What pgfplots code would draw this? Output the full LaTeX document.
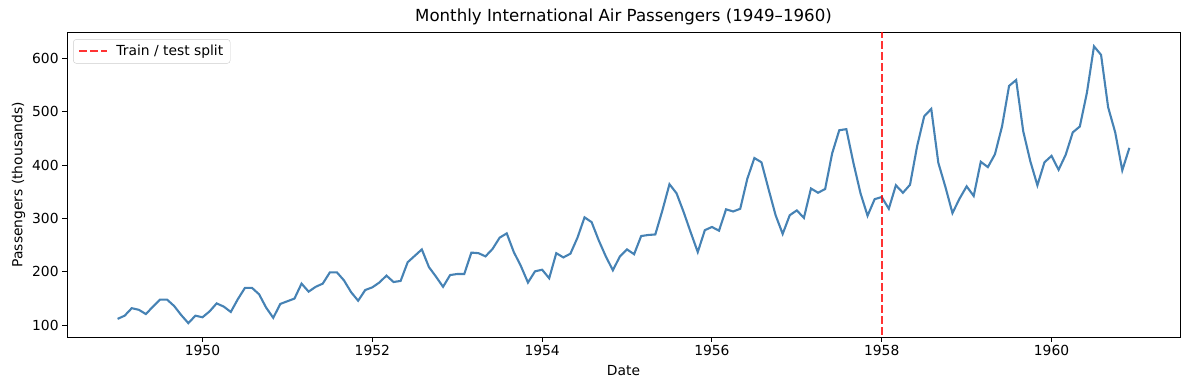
\documentclass[border=0pt]{standalone}
\usepackage{pgfplots}
\usepackage{pgfplotstable}
\pgfplotsset{compat=1.18}
\usepackage{fontspec}
\setmainfont{DejaVu Sans}
\definecolor{steel}{HTML}{4682B4}
\pgfplotstableread{
m v
0 112
1 118
2 132
3 129
4 121
5 135
6 148
7 148
8 136
9 119
10 104
11 118
12 115
13 126
14 141
15 135
16 125
17 149
18 170
19 170
20 158
21 133
22 114
23 140
24 145
25 150
26 178
27 163
28 172
29 178
30 199
31 199
32 184
33 162
34 146
35 166
36 171
37 180
38 193
39 181
40 183
41 218
42 230
43 242
44 209
45 191
46 172
47 194
48 196
49 196
50 236
51 235
52 229
53 243
54 264
55 272
56 237
57 211
58 180
59 201
60 204
61 188
62 235
63 227
64 234
65 264
66 302
67 293
68 259
69 229
70 203
71 229
72 242
73 233
74 267
75 269
76 270
77 315
78 364
79 347
80 312
81 274
82 237
83 278
84 284
85 277
86 317
87 313
88 318
89 374
90 413
91 405
92 355
93 306
94 271
95 306
96 315
97 301
98 356
99 348
100 355
101 422
102 465
103 467
104 404
105 347
106 305
107 336
108 340
109 318
110 362
111 348
112 363
113 435
114 491
115 505
116 404
117 359
118 310
119 337
120 360
121 342
122 406
123 396
124 420
125 472
126 548
127 559
128 463
129 407
130 362
131 405
132 417
133 391
134 419
135 461
136 472
137 535
138 622
139 606
140 508
141 461
142 390
143 432
}\air
\begin{document}
\begin{tikzpicture}
\begin{axis}[
  name=ax,
  scale only axis,
  width=1113bp, height=304.5bp,
  xmin=1948.404, xmax=1961.513,
  ymin=78.1, ymax=647.9,
  xtick={1950,1952,...,1960},
  ytick={100,200,...,600},
  xticklabel style={/pgf/number format/1000 sep={}},
  /pgf/number format/assume math mode=true,
  tick label style={font=\fontsize{13.9}{16}\selectfont},
  label style={font=\fontsize{13.9}{16}\selectfont},
  xlabel={Date},
  xlabel style={yshift=-3bp},
  ylabel={Passengers (thousands)},
  title={Monthly International Air Passengers (1949–1960)},
  title style={font=\fontsize{16.7}{19}\selectfont, yshift=-2bp},
  tick align=outside,
  tick pos=left,
  major tick length=4.9bp,
  axis line style={line width=0.9bp},
  every tick/.style={black, line width=0.9bp},
  legend style={font=\fontsize{13.9}{16}\selectfont, draw=black!20, rounded corners=3bp, inner xsep=5bp, inner ysep=4bp, at={(0.0055,0.978)}, anchor=north west},
  legend cell align=left,
  legend image code/.code={\draw[#1] (0bp,0bp) -- (28bp,0bp); \path (34bp,0bp);},
]
\addplot[steel, line width=2.1bp, forget plot] table[x expr=1949+\thisrow{m}/12, y=v] {\air};
\addplot[red, opacity=0.8, dashed, line width=2.1bp, dash pattern=on 7.7bp off 3.3bp] coordinates {(1958,0) (1958,1000)};
\addlegendentry{Train / test split}
\end{axis}
\path[use as bounding box] ([shift={(-67bp,-53bp)}]ax.south west) rectangle ([shift={(1122bp,337bp)}]ax.south west);
\end{tikzpicture}
\end{document}
